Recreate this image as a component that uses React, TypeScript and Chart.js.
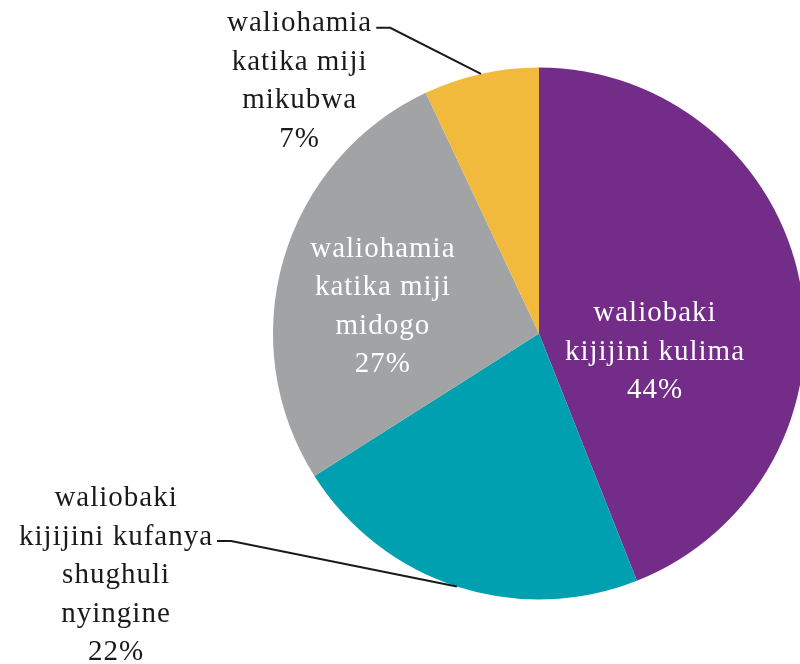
import React, { useEffect, useRef } from "react";
import { Chart, registerables } from "chart.js";

Chart.register(...registerables);

const categories = [
  ["waliobaki", "kijijini kulima"],
  ["waliobaki", "kijijini kufanya", "shughuli", "nyingine"],
  ["waliohamia", "katika miji", "midogo"],
  ["waliohamia", "katika miji", "mikubwa"],
];
const values = [44, 22, 27, 7];
const colors = ["#732C88", "#00A0B0", "#A2A3A5", "#F2BA3C"];
const percentLabels = ["44%", "22%", "27%", "7%"];

// label layout: inside (white) or outside (black, with leader)
const labelPlacement = [
  { inside: true, fx: 0.436, fy: 0.07 },
  { inside: false, fx: -1.59, fy: 0.91, leaderLine: 1, leaderFrac: 0.5 },
  { inside: true, fx: -0.587, fy: -0.1 },
  { inside: false, fx: -0.9, fy: -0.947, leaderLine: 0, leaderFrac: 0.5 },
];

const FONT = "29px 'Liberation Serif', 'Times New Roman', serif";
const LINE_H = 38.5;

const labelPlugin = {
  id: "pieLabels",
  afterDatasetsDraw(chart: any) {
    const ctx = chart.ctx;
    const meta = chart.getDatasetMeta(0);
    ctx.save();
    ctx.font = FONT;
    (ctx as any).letterSpacing = "1px";
    ctx.textAlign = "center";
    ctx.textBaseline = "middle";
    meta.data.forEach((arc: any, i: number) => {
      const { x, y, outerRadius, startAngle, endAngle } = arc.getProps(
        ["x", "y", "outerRadius", "startAngle", "endAngle"],
        true
      );
      const p = labelPlacement[i];
      const lines = [...categories[i], percentLabels[i]];
      const cx = x + p.fx * outerRadius;
      const cy = y + p.fy * outerRadius;
      const top = cy - ((lines.length - 1) * LINE_H) / 2;
      ctx.fillStyle = p.inside ? "#ffffff" : "#1a1a1a";
      lines.forEach((t, k) => {
        ctx.fillText(t, cx, top + k * LINE_H);
      });
      if (!p.inside) {
        const lineIdx = p.leaderLine as number;
        const ly = top + lineIdx * LINE_H + 4;
        const w = ctx.measureText(lines[lineIdx]).width;
        const sx = cx + w / 2 + 4;
        const a = startAngle + (endAngle - startAngle) * (p.leaderFrac as number);
        const ex = x + Math.cos(a) * outerRadius;
        const ey = y + Math.sin(a) * outerRadius;
        ctx.strokeStyle = "#1a1a1a";
        ctx.lineWidth = 2;
        ctx.beginPath();
        ctx.moveTo(sx, ly);
        ctx.lineTo(sx + 14, ly);
        ctx.lineTo(ex, ey);
        ctx.stroke();
      }
    });
    ctx.restore();
  },
};

export default function App() {
  const ref = useRef<HTMLCanvasElement | null>(null);
  useEffect(() => {
    document.body.style.margin = "0";
    const chart = new Chart(ref.current as HTMLCanvasElement, {
      type: "pie",
      data: {
        labels: categories.map((c) => c.join(" ")),
        datasets: [
          {
            data: values,
            backgroundColor: colors,
            borderWidth: 0,
          },
        ],
      },
      options: {
        animation: false,
        responsive: false,
        devicePixelRatio: 1,
        layout: { padding: { left: 273, right: 15, top: 67, bottom: 64 } },
        plugins: {
          legend: { display: false },
          tooltip: { enabled: false },
        },
      },
      plugins: [labelPlugin],
    });
    return () => chart.destroy();
  }, []);
  return (
    <div
      style={{
        position: "absolute",
        left: 0,
        top: 0,
        width: 800,
        height: 664,
        overflow: "hidden",
        background: "#ffffff",
      }}
    >
      <canvas ref={ref} width={820} height={664} style={{ width: 820, height: 664 }} />
    </div>
  );
}
